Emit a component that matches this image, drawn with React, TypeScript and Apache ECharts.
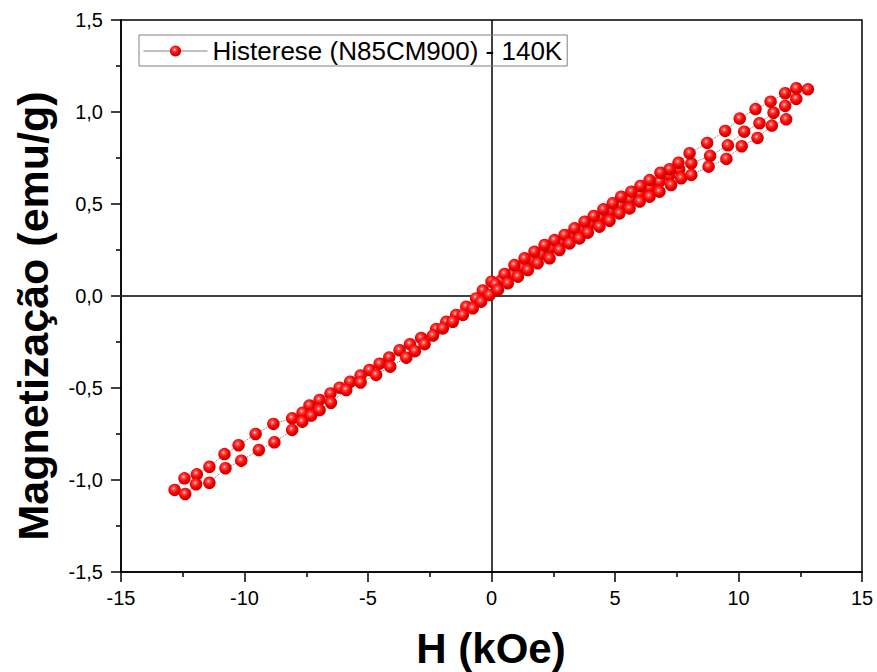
import React, { useEffect, useRef } from "react";
import * as echarts from "echarts";

const SERIES_NAME = "Histerese (N85CM900) - 140K";

// Virgin curve (0 -> +H max)
const virginH = [0.0, 0.4, 0.8, 1.2, 1.6, 2.0, 2.4, 2.8, 3.2, 3.6, 4.0, 4.4, 4.8, 5.2, 5.6, 6.0, 6.4, 6.8, 7.2, 7.6, 8.09, 8.85, 9.57, 10.23, 10.85, 11.42, 11.89, 12.34];
const virginM = [0.078, 0.085, 0.118, 0.158, 0.195, 0.228, 0.262, 0.296, 0.33, 0.362, 0.395, 0.428, 0.462, 0.494, 0.527, 0.558, 0.59, 0.622, 0.655, 0.688, 0.721, 0.762, 0.819, 0.893, 0.939, 0.996, 1.033, 1.071];

// Descending branch (+H max -> -H max)
const descH = [12.81, 12.34, 11.89, 11.3, 10.69, 10.05, 9.46, 8.73, 8.02, 7.57, 7.21, 6.84, 6.4, 6.03, 5.66, 5.25, 4.91, 4.53, 4.14, 3.77, 3.36, 2.96, 2.55, 2.15, 1.74, 1.34, 0.93, 0.53, 0.15, -0.35, -0.62, -1.02, -1.43, -1.83, -2.24, -2.85, -3.3, -3.72, -4.14, -4.53, -4.94, -5.3, -5.72, -6.15, -6.52, -6.96, -7.37, -7.65, -8.07, -8.83, -9.55, -10.24, -10.81, -11.42, -11.93, -12.43, -12.83];
const descM = [1.123, 1.129, 1.102, 1.056, 1.016, 0.964, 0.897, 0.832, 0.776, 0.724, 0.689, 0.67, 0.63, 0.598, 0.567, 0.54, 0.504, 0.471, 0.435, 0.404, 0.368, 0.332, 0.304, 0.277, 0.241, 0.205, 0.168, 0.12, 0.065, 0.03, -0.013, -0.058, -0.103, -0.14, -0.18, -0.228, -0.262, -0.295, -0.334, -0.368, -0.402, -0.432, -0.466, -0.498, -0.53, -0.565, -0.595, -0.634, -0.665, -0.695, -0.75, -0.811, -0.859, -0.928, -0.969, -0.991, -1.054];

// Ascending branch (-H max -> +H max)
const ascH = [-12.4, -11.96, -11.42, -10.77, -10.13, -9.42, -8.79, -8.07, -7.66, -7.3, -6.96, -6.5, -5.88, -5.3, -4.67, -4.1, -3.45, -3.1, -2.71, -2.37, -1.97, -1.57, -1.16, -0.76, -0.42, -0.08, 0.26, 0.66, 1.07, 1.47, 1.87, 2.35, 2.75, 3.16, 3.56, 3.9, 4.37, 4.78, 5.18, 5.59, 6.0, 6.4, 6.8, 7.27, 7.68, 8.09, 8.79, 9.51, 10.13, 10.77, 11.35, 11.93];
const ascM = [-1.076, -1.023, -1.015, -0.936, -0.895, -0.837, -0.795, -0.728, -0.683, -0.65, -0.62, -0.58, -0.511, -0.47, -0.429, -0.384, -0.335, -0.3, -0.262, -0.215, -0.176, -0.14, -0.103, -0.067, -0.031, 0.005, 0.033, 0.069, 0.105, 0.141, 0.178, 0.205, 0.25, 0.286, 0.313, 0.344, 0.377, 0.409, 0.449, 0.476, 0.513, 0.54, 0.567, 0.603, 0.64, 0.658, 0.703, 0.745, 0.814, 0.859, 0.926, 0.96];

const xTicks = [-15, -10, -5, 0, 5, 10, 15];
const yTicks = [-1.5, -1.0, -0.5, 0.0, 0.5, 1.0, 1.5];

const FONT = "'Liberation Sans', Arial, sans-serif";

function zip(h: number[], m: number[]) {
  return h.map((v, i) => [v, m[i]]);
}

export default function App() {
  const ref = useRef<HTMLDivElement>(null);
  useEffect(() => {
    if (!ref.current) return;
    const chart = echarts.init(ref.current, undefined, { renderer: "svg" });
    const data = [...zip(virginH, virginM), ...zip(descH, descM), ...zip(ascH, ascM)];
    const ball = new echarts.graphic.RadialGradient(0.42, 0.38, 0.62, [
      { offset: 0, color: "#ffd6d6" },
      { offset: 0.22, color: "#ff4a4a" },
      { offset: 0.6, color: "#f80000" },
      { offset: 1, color: "#c60000" },
    ]);
    chart.setOption({
      animation: false,
      backgroundColor: "#fff",
      textStyle: { fontFamily: FONT },
      grid: {
        left: 121,
        top: 20,
        right: 15,
        bottom: 100,
        show: true,
        borderColor: "#000",
        borderWidth: 1.5,
        backgroundColor: "transparent",
      },
      legend: {
        left: 139,
        top: 35,
        orient: "horizontal",
        itemWidth: 64,
        itemHeight: 14,
        padding: [3, 5, 2, 4],
        borderColor: "#808080",
        borderWidth: 1,
        textStyle: { fontSize: 26, color: "#000", fontFamily: FONT },
        lineStyle: { type: "solid", color: "#808080", width: 1 },
        data: [SERIES_NAME],
      },
      xAxis: {
        type: "value",
        min: -15,
        max: 15,
        interval: 5,
        axisLine: { show: true, onZero: false, lineStyle: { color: "#000", width: 1.5 } },
        axisTick: { show: true, inside: false, length: 10, lineStyle: { color: "#000", width: 1.5 } },
        minorTick: { show: true, splitNumber: 2, length: 5, lineStyle: { color: "#000", width: 1.5 } },
        splitLine: { show: false },
        axisLabel: {
          margin: 16,
          fontSize: 20,
          color: "#000",
          fontFamily: FONT,
          formatter: (v: number) => (xTicks.includes(v) ? String(v) : ""),
        },
      },
      yAxis: {
        type: "value",
        min: -1.5,
        max: 1.5,
        interval: 0.5,
        axisLine: { show: true, onZero: false, lineStyle: { color: "#000", width: 1.5 } },
        axisTick: { show: true, inside: false, length: 10, lineStyle: { color: "#000", width: 1.5 } },
        minorTick: { show: true, splitNumber: 2, length: 5, lineStyle: { color: "#000", width: 1.5 } },
        splitLine: { show: false },
        axisLabel: {
          margin: 18,
          fontSize: 20,
          color: "#000",
          fontFamily: FONT,
          formatter: (v: number) => {
            const t = yTicks.find((k) => Math.abs(k - v) < 1e-9);
            return t === undefined ? "" : t.toFixed(1).replace(".", ",");
          },
        },
      },
      graphic: [
        {
          type: "text",
          x: 33,
          y: 316,
          rotation: Math.PI / 2,
          style: {
            text: "Magnetização (emu/g)",
            fontSize: 43,
            fontWeight: "bold",
            fontFamily: FONT,
            fill: "#000",
            align: "center",
            verticalAlign: "middle",
          },
        },
        {
          type: "text",
          x: 491,
          y: 648,
          style: {
            text: "H (kOe)",
            fontSize: 42,
            fontWeight: "bold",
            fontFamily: FONT,
            fill: "#000",
            align: "center",
            verticalAlign: "middle",
          },
        },
      ],
      series: [
        {
          name: "zeroLines",
          type: "scatter",
          data: [],
          silent: true,
          markLine: {
            silent: true,
            symbol: "none",
            z: 1,
            label: { show: false },
            lineStyle: { color: "#000", width: 1.5, type: "solid" },
            data: [{ xAxis: 0 }, { yAxis: 0 }],
          },
          z: 1,
        },
        {
          name: SERIES_NAME,
          type: "line",
          data,
          z: 3,
          symbol: "circle",
          symbolSize: 12.5,
          showSymbol: true,
          lineStyle: { type: "dotted", color: "#707070", width: 1 },
          itemStyle: { color: ball },
          emphasis: { disabled: true },
        },
      ],
    });
    return () => chart.dispose();
  }, []);
  return (
    <div
      ref={ref}
      style={{ position: "fixed", left: 0, top: 0, width: 877, height: 672 }}
    />
  );
}
